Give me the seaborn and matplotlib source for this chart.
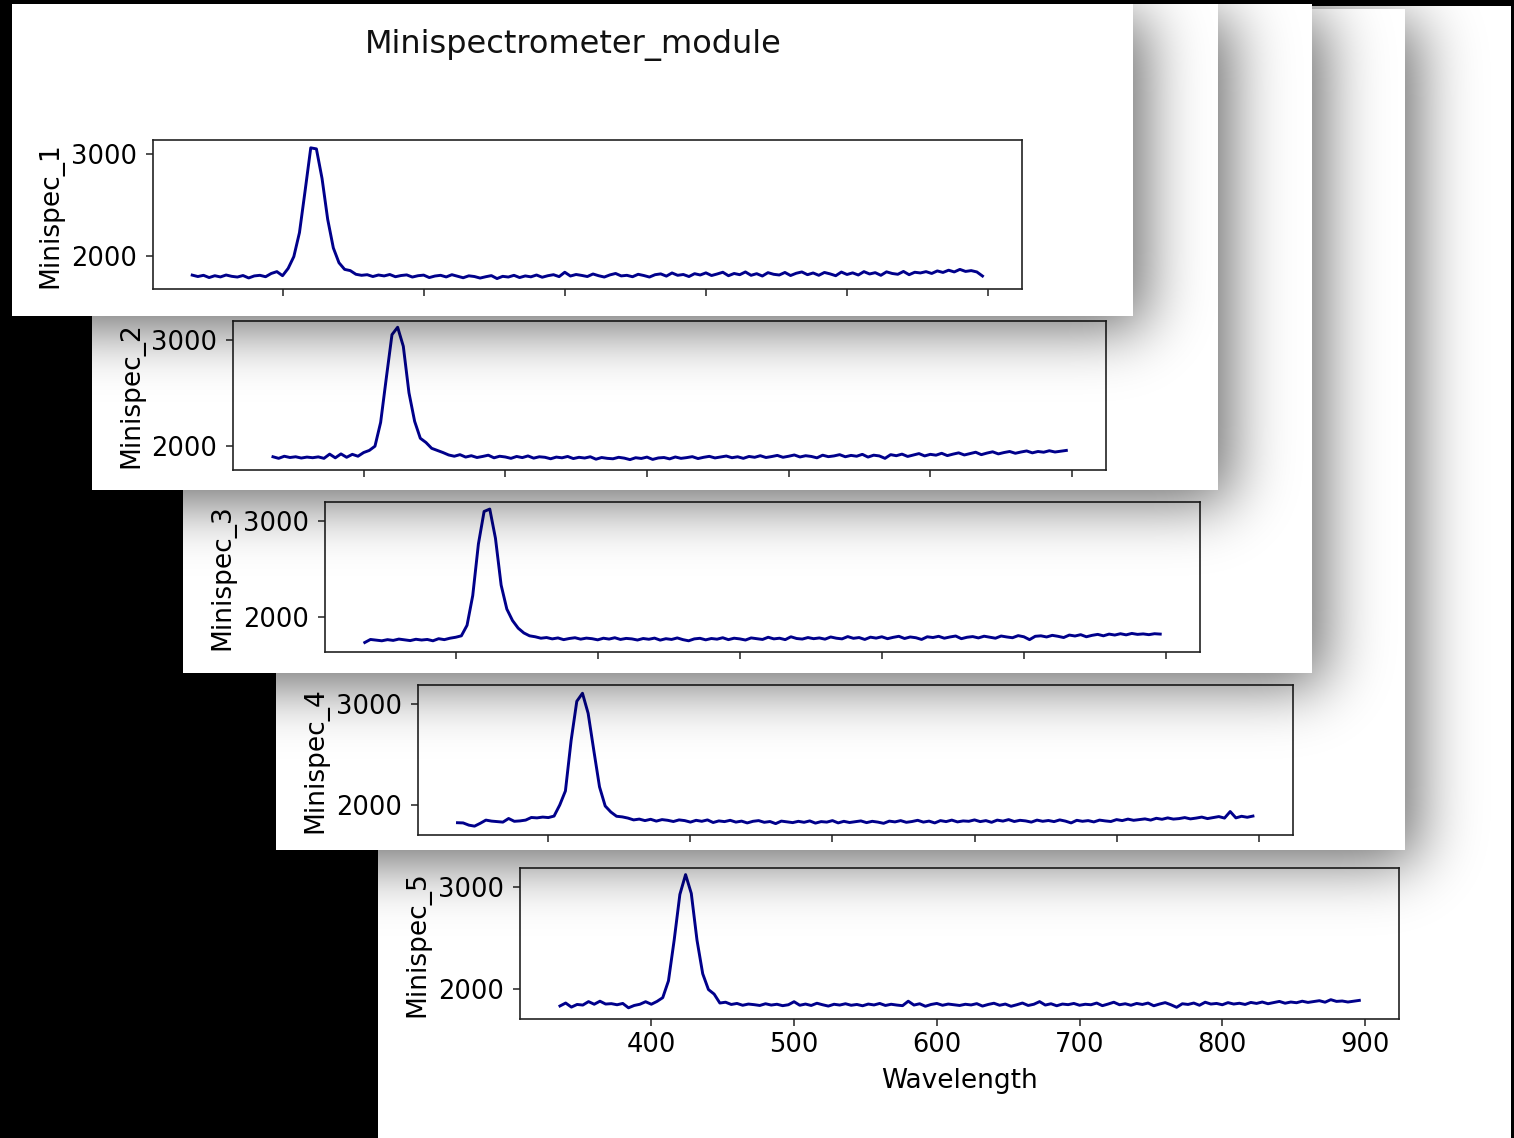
import math
import numpy as np
import matplotlib
matplotlib.use("Agg")
import matplotlib.pyplot as plt
import seaborn as sns

# ---------------- data ----------------
wavelength = [
    336, 340, 344, 348, 352, 356, 360, 364, 368, 372, 376, 380, 384, 388, 392,
    396, 400, 404, 408, 412, 416, 420, 424, 428, 432, 436, 440, 444, 448, 452,
    456, 460, 464, 468, 472, 476, 480, 484, 488, 492,
    496, 500, 504, 508, 512, 516, 520, 524, 528, 532,
    536, 540, 544, 548, 552, 556, 560, 564, 568, 572,
    576, 580, 584, 588, 592, 596, 600, 604, 608, 612,
    616, 620, 624, 628, 632, 636, 640, 644, 648, 652,
    656, 660, 664, 668, 672, 676, 680, 684, 688, 692,
    696, 700, 704, 708, 712, 716, 720, 724, 728, 732,
    736, 740, 744, 748, 752, 756, 760, 764, 768, 772,
    776, 780, 784, 788, 792, 796, 800, 804, 808, 812,
    816, 820, 824, 828, 832, 836, 840, 844, 848, 852,
    856, 860, 864, 868, 872, 876, 880, 884, 888, 892, 896,
]

minispec_1 = [
    1814, 1800, 1812, 1790, 1808, 1796, 1815, 1802, 1795, 1810, 1786, 1806, 1812, 1798, 1830,
    1848, 1808, 1880, 1995, 2230, 2640, 3060, 3050, 2760, 2360, 2080, 1935, 1870, 1858, 1822,
    1812, 1818, 1800, 1815, 1806, 1820, 1798, 1810, 1816, 1795,
    1808, 1814, 1790, 1805, 1812, 1796, 1818, 1803, 1788, 1807,
    1800, 1785, 1798, 1809, 1780, 1802, 1795, 1812, 1790, 1806,
    1797, 1815, 1793, 1808, 1818, 1799, 1842, 1805, 1820, 1811,
    1800, 1825, 1808, 1795, 1816, 1830, 1806, 1812, 1798, 1822,
    1810, 1795, 1818, 1826, 1804, 1835, 1812, 1820, 1800, 1828,
    1815, 1836, 1810, 1825, 1842, 1808, 1830, 1818, 1845, 1812,
    1828, 1805, 1838, 1822, 1815, 1840, 1810, 1832, 1845, 1818,
    1835, 1812, 1840, 1826, 1808, 1844, 1820, 1836, 1815, 1848,
    1825, 1838, 1812, 1846, 1830, 1822, 1850, 1818, 1842, 1835,
    1848, 1830, 1855, 1840, 1862, 1845, 1870, 1850, 1858, 1845, 1805,
]

minispec_2 = [
    1895, 1880, 1900, 1888, 1895, 1883, 1892, 1886, 1894, 1880, 1920, 1885, 1922, 1890, 1918,
    1900, 1935, 1955, 1995, 2220, 2640, 3050, 3120, 2940, 2500, 2230, 2070, 2030, 1975, 1955,
    1935, 1912, 1900, 1915, 1892, 1905, 1888, 1898, 1910, 1885,
    1900, 1893, 1880, 1898, 1887, 1903, 1882, 1895, 1890, 1876,
    1892, 1885, 1898, 1878, 1890, 1883, 1895, 1872, 1888, 1880,
    1876, 1890, 1882, 1868, 1886, 1879, 1892, 1870, 1884, 1888,
    1875, 1893, 1880, 1887, 1896, 1878, 1890, 1899, 1884, 1893,
    1902, 1886, 1895, 1880, 1898, 1890, 1905, 1888, 1897, 1908,
    1890, 1900, 1912, 1893, 1905, 1898, 1885, 1910, 1896, 1903,
    1915, 1895, 1908, 1900, 1918, 1892, 1910, 1903, 1880, 1915,
    1905, 1920, 1898, 1912, 1925, 1903, 1918, 1910, 1928, 1906,
    1920, 1932, 1912, 1925, 1938, 1915, 1930, 1942, 1922, 1935,
    1945, 1928, 1940, 1950, 1932, 1945, 1938, 1952, 1940, 1948, 1955,
]

minispec_3 = [
    1730, 1762, 1755, 1748, 1760, 1752, 1766, 1758, 1750, 1764, 1756, 1762, 1748, 1770, 1760,
    1775, 1785, 1800, 1910, 2220, 2760, 3100, 3125, 2820, 2330, 2080, 1960, 1880, 1830, 1800,
    1790, 1775, 1782, 1768, 1778, 1760, 1772, 1780, 1765, 1776,
    1770, 1758, 1775, 1766, 1780, 1762, 1773, 1768, 1756, 1772,
    1764, 1776, 1755, 1770, 1762, 1778, 1760, 1748, 1768, 1774,
    1758, 1772, 1765, 1780, 1760, 1775, 1768, 1756, 1778, 1770,
    1762, 1785, 1768, 1775, 1760, 1790, 1772, 1766, 1782, 1770,
    1778, 1765, 1788, 1775, 1768, 1792, 1774, 1782, 1762, 1786,
    1776, 1790, 1770, 1784, 1795, 1772, 1788, 1780, 1762, 1790,
    1782, 1795, 1775, 1788, 1798, 1770, 1785, 1792, 1778, 1796,
    1786, 1775, 1798, 1788, 1780, 1802, 1790, 1760, 1795, 1800,
    1788, 1805, 1795, 1782, 1808, 1798, 1812, 1790, 1805, 1815,
    1800, 1818, 1808, 1822, 1810, 1825, 1815, 1820, 1812, 1822, 1818,
]

minispec_4 = [
    1824, 1822, 1800, 1790, 1818, 1850, 1840, 1835, 1830, 1866, 1838, 1842, 1850, 1876, 1872,
    1880, 1875, 1890, 2000, 2140, 2640, 3030, 3110, 2910, 2540, 2180, 1990, 1930, 1888, 1882,
    1870, 1852, 1860, 1845, 1858, 1840, 1855, 1848, 1836, 1852,
    1845, 1830, 1848, 1838, 1852, 1826, 1842, 1835, 1848, 1830,
    1840, 1822, 1838, 1845, 1828, 1836, 1815, 1840, 1832, 1825,
    1838, 1828, 1842, 1820, 1835, 1830, 1845, 1822, 1838, 1826,
    1834, 1842, 1825, 1838, 1830, 1818, 1840, 1832, 1845, 1828,
    1836, 1848, 1830, 1840, 1822, 1845, 1835, 1850, 1832, 1842,
    1838, 1852, 1835, 1845, 1828, 1850, 1840, 1855, 1836, 1848,
    1842, 1830, 1850, 1838, 1846, 1835, 1852, 1840, 1822, 1848,
    1838, 1845, 1832, 1850, 1842, 1836, 1855, 1845, 1860, 1848,
    1855, 1862, 1850, 1868, 1858, 1872, 1860, 1865, 1875, 1862,
    1870, 1880, 1865, 1875, 1885, 1870, 1935, 1872, 1888, 1878, 1890,
]

minispec_5 = [
    1833, 1862, 1822, 1848, 1842, 1876, 1850, 1880, 1852, 1856, 1845, 1858, 1815, 1838, 1850,
    1875, 1850, 1878, 1915, 2080, 2480, 2930, 3125, 2940, 2480, 2150, 1995, 1950, 1862, 1870,
    1848, 1858, 1840, 1852, 1846, 1838, 1855, 1842, 1850, 1836,
    1845, 1875, 1840, 1852, 1838, 1860, 1845, 1832, 1850, 1842,
    1855, 1840, 1848, 1835, 1852, 1843, 1858, 1838, 1850, 1842,
    1836, 1880, 1842, 1855, 1830, 1848, 1858, 1840, 1852, 1845,
    1838, 1850, 1843, 1856, 1832, 1848, 1860, 1840, 1852, 1830,
    1845, 1862, 1838, 1850, 1876, 1842, 1855, 1835, 1852, 1846,
    1858, 1840, 1850, 1845, 1862, 1836, 1852, 1870, 1845, 1855,
    1840, 1858, 1848, 1862, 1835, 1852, 1866, 1845, 1820, 1855,
    1848, 1862, 1840, 1870, 1852, 1858, 1845, 1866, 1852, 1860,
    1848, 1868, 1858, 1872, 1855, 1866, 1878, 1860, 1872, 1865,
    1880, 1868, 1876, 1885, 1870, 1895, 1878, 1882, 1872, 1880, 1888,
]

series = [minispec_1, minispec_2, minispec_3, minispec_4, minispec_5]
panel_labels = ["Minispec_1", "Minispec_2", "Minispec_3", "Minispec_4", "Minispec_5"]
title_text = "Minispectrometer_module"
x_label = "Wavelength"
x_ticks = [400, 500, 600, 700, 800, 900]
y_ticks = [2000, 3000]

# ---------------- layout (pixels, origin top-left) ----------------
W, H = 1514, 1138
cards = [  # x0, y0, x1, y1
    (12, 4, 1133, 316),
    (92, 4, 1218, 490),
    (183, 4, 1312, 673),
    (276, 9, 1405, 850),
    (378, 6, 1511, 1138),
]
axes_px = [  # left, top, right, bottom
    (152.7, 140.3, 1022.0, 289.3),
    (233.3, 320.7, 1106.0, 470.3),
    (325.0, 501.7, 1200.0, 651.7),
    (417.7, 685.0, 1292.7, 835.0),
    (520.0, 868.3, 1399.3, 1019.3),
]
ylims = [(1675, 3134), (1767, 3182), (1634, 3202), (1702, 3192), (1702, 3187)]
xlim = (308, 924)

erf_v = np.vectorize(math.erf)


def phi(z):
    return 0.5 * (1.0 + erf_v(z / math.sqrt(2.0)))


SH_A, SH_OFF, SH_S = 0.6, 12.0, 30.0


def layer_image(rect):
    x0, y0, x1, y1 = rect
    xs = np.arange(W) + 0.5
    ys = np.arange(H) + 0.5
    fx = phi((x1 + SH_OFF - xs) / SH_S) * phi((xs - x0 - SH_OFF) / SH_S)
    fy = phi((y1 + SH_OFF - ys) / SH_S) * phi((ys - y0 - SH_OFF) / SH_S)
    img = np.zeros((H, W, 4))
    img[..., 3] = SH_A * np.outer(fy, fx)
    img[int(y0):int(y1), int(x0):int(x1)] = 1.0
    return img


fig = plt.figure(figsize=(W / 100, H / 100), dpi=100, facecolor="black")

for k in [4, 3, 2, 1, 0]:
    # card with its drop shadow
    lay = fig.add_axes([0, 0, 1, 1])
    lay.imshow(layer_image(cards[k]), extent=(0, W, H, 0), interpolation="nearest", aspect="auto")
    lay.set_xlim(0, W)
    lay.set_ylim(H, 0)
    lay.set_axis_off()

    l, t, r, b = axes_px[k]
    ax = fig.add_axes([l / W, 1 - b / H, (r - l) / W, (b - t) / H])
    ax.set_facecolor("none")
    sns.lineplot(x=wavelength, y=series[k], ax=ax, color="#00008b", linewidth=2.1)
    ax.set_xlim(*xlim)
    ax.set_ylim(*ylims[k])
    ax.set_xticks(x_ticks)
    ax.set_yticks(y_ticks)
    ax.set_ylabel(panel_labels[k], fontsize=19, labelpad=5.3)
    ax.tick_params(axis="both", length=5, width=1.1, color="#222222", labelsize=18.5)
    ax.tick_params(axis="y", pad=6.5)
    ax.tick_params(axis="x", pad=4.5)
    for sp in ax.spines.values():
        sp.set_linewidth(1.2)
        sp.set_color("#222222")
    if k == 4:
        ax.set_xlabel(x_label, fontsize=19, labelpad=7)
    else:
        ax.tick_params(axis="x", labelbottom=False)
        ax.set_xlabel("")

fig.text(573 / W, 1 - 52.7 / H, title_text, ha="center", va="baseline", fontsize=23, color="#111111")

fig.savefig("out.png", dpi=100, facecolor="black")
